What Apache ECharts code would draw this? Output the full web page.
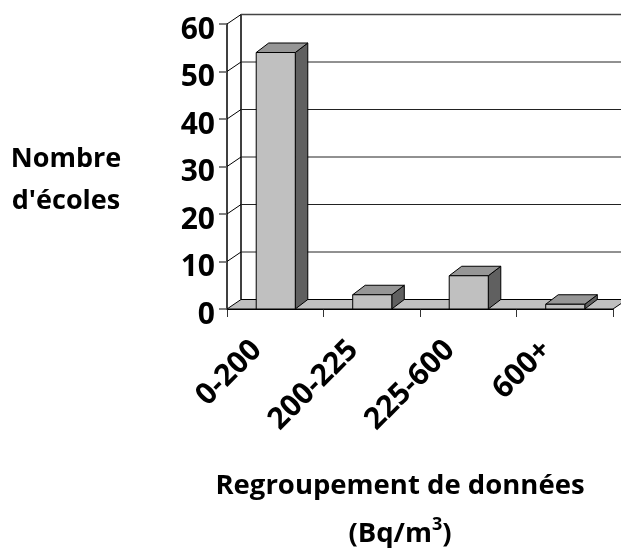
<!DOCTYPE html>
<html><head><meta charset="utf-8">
<style>html,body{margin:0;padding:0;background:#fff}#c{width:621px;height:548px}</style>
<script src="https://cdn.jsdelivr.net/npm/echarts@6/dist/echarts.min.js"></script>
</head><body><div id="c"></div>
<script>
const categories = ['0-200','200-225','225-600','600+'];
const schoolCounts = [54,3,7,1];
const yTicks = [0,10,20,30,40,50,60];
const yAxisTitle = "Nombre\nd'écoles";
const DX = 14, DY = 9.5, BDX = 12.5;
const font = '"Open Sans", sans-serif';
const chart = echarts.init(document.getElementById('c'), null, {renderer:'canvas'});
chart.setOption({
  animation:false,
  backgroundColor:'#fff',
  title:[
    {text:yAxisTitle,left:61,top:133,textAlign:'center',
     textStyle:{fontFamily:font,fontWeight:'bold',fontSize:27,lineHeight:42,color:'#000'}},
    {text:'Regroupement de données',left:395,top:467,textAlign:'center',
     textStyle:{fontFamily:font,fontWeight:'bold',fontSize:27.5,color:'#000'}},
    {text:'{a|(Bq/m}{s|3}{a|)}',left:395,top:511,textAlign:'center',
     textStyle:{rich:{
       a:{fontFamily:font,fontWeight:'bold',fontSize:27.5,color:'#000',lineHeight:36},
       s:{fontFamily:font,fontWeight:'bold',fontSize:18,color:'#000',verticalAlign:'top',lineHeight:36,padding:[0,0,14,0]}
     }}}
  ],
  grid:{left:227,right:8,top:24,bottom:239},
  xAxis:{type:'category',data:categories,
    axisLine:{show:true,lineStyle:{color:'#000',width:1}},
    axisTick:{show:true,length:8,alignWithLabel:false,lineStyle:{color:'#333',width:1}},
    axisLabel:{rotate:45,interval:0,margin:18,padding:[0,26,0,0],fontFamily:font,fontWeight:'bold',fontSize:30,color:'#000'}
  },
  yAxis:{type:'value',min:0,max:60,interval:10,
    axisLine:{show:true,lineStyle:{color:'#000',width:1.5}},
    axisTick:{show:true,length:8,lineStyle:{color:'#555',width:1.5}},
    axisLabel:{margin:12,verticalAlign:'top',lineHeight:12,fontFamily:font,fontWeight:'bold',fontSize:30,color:'#000'},
    splitLine:{show:false}
  },
  series:[
    {type:'custom',z:1,silent:true,clip:false,data:yTicks.map(v=>[0,v]),
     renderItem(params,api){
       const p=api.coord([0,api.value(1)]);
       const g=params.coordSys;
       const v=api.value(1);
       const x0=g.x, xe=g.x+g.width, kids=[];
       if(v===0){
         kids.push({type:'polygon',shape:{points:[[x0,p[1]],[x0+DX,p[1]-DY],[xe+DX,p[1]-DY],[xe,p[1]]]},
           style:{fill:'#c0c0c0',stroke:'#000',lineWidth:1}});
         kids.push({type:'line',shape:{x1:x0+DX,y1:g.y-DY,x2:x0+DX,y2:p[1]-DY},style:{stroke:'#000',lineWidth:1.5}});
       } else {
         kids.push({type:'line',shape:{x1:x0,y1:p[1],x2:x0+DX,y2:p[1]-DY},style:{stroke:'#000',lineWidth:1}});
         kids.push({type:'line',shape:{x1:x0+DX,y1:p[1]-DY,x2:xe+DX,y2:p[1]-DY},
           style:{stroke:v===60?'#444':'#222',lineWidth:v===60?1.5:1}});
       }
       return {type:'group',children:kids};
     }},
    {type:'custom',z:2,clip:false,data:schoolCounts.map((v,i)=>[i,v]),
     renderItem(params,api){
       const top=api.coord([api.value(0),api.value(1)]);
       const base=api.coord([api.value(0),0]);
       const w=api.size([1,0])[0]*0.405;
       const l=top[0]-w/2+0.5, r=l+w, t=top[1], b=base[1];
       const st=f=>({fill:f,stroke:'#000',lineWidth:1});
       return {type:'group',children:[
         {type:'polygon',shape:{points:[[r,b],[r+BDX,b-DY],[r+BDX,t-DY],[r,t]]},style:st('#606060')},
         {type:'polygon',shape:{points:[[l,t],[l+BDX,t-DY],[r+BDX,t-DY],[r,t]]},style:st('#969696')},
         {type:'rect',shape:{x:l,y:t,width:w,height:b-t},style:st('#c0c0c0')}
       ]};
     }}
  ]
});
</script></body></html>
